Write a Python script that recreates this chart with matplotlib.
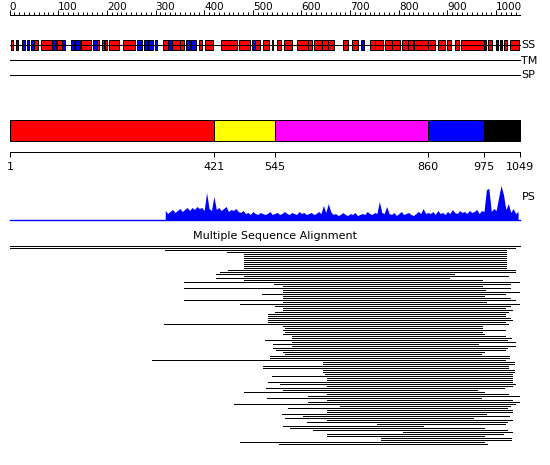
import numpy as np
import matplotlib
matplotlib.use('Agg')
from matplotlib import pyplot as plt

# protein length and top ruler
seq_len = 1049
ruler_major = list(range(0, 1001, 100))
ruler_minor = list(range(0, 1041, 10))

# secondary structure (residue ranges)
helix = [(3, 8), (50, 59), (65, 87), (97, 107), (146, 167), (179, 183), (190, 200),
         (204, 224), (234, 258), (316, 326), (334, 350), (350, 358), (389, 395),
         (402, 418), (434, 467), (471, 494), (505, 515), (520, 534), (539, 542),
         (550, 558), (564, 580), (591, 614), (614, 621), (626, 642), (642, 654),
         (654, 667), (685, 696), (703, 717), (741, 752), (752, 768), (772, 787),
         (787, 803), (807, 818), (818, 830), (832, 860), (860, 874), (881, 894),
         (900, 907), (916, 923), (928, 974), (983, 991), (1017, 1023), (1029, 1046)]
strand = [(13, 18), (26, 32), (36, 41), (45, 50), (87, 96), (108, 114), (126, 133),
          (135, 145), (172, 179), (194, 196), (261, 272), (276, 282), (285, 294),
          (299, 304), (326, 334), (362, 371), (372, 383), (498, 504), (723, 729),
          (975, 979), (999, 1003), (1008, 1013)]

# domain boundaries
dom_bounds = [1, 421, 545, 860, 975, 1049]
dom_colors = ['#ff0000', '#ffff00', '#ff00ff', '#0000ff', '#000000']

# PS profile, one value every 5 residues from 320
ps_start = 320
ps_step = 5
ps_height = [9, 6, 8, 10, 7, 9, 11, 8, 10, 12,
             9, 12, 10, 13, 11, 12, 9,
             27, 11, 9, 23,
             10, 12, 9, 11, 13, 8, 10, 9, 11, 8, 7, 9,
             6, 7, 5, 8, 6, 5, 7, 6, 5, 6, 8, 5, 6, 7, 5, 6, 8, 6, 5, 7, 6, 5, 8, 6, 7, 5, 6,
             7, 5, 6, 8, 6,
             14, 7, 16, 8,
             5, 6, 4, 5, 7, 5, 4, 6, 5, 7, 4, 5, 6, 5, 8, 6, 5, 7, 6,
             18, 7, 6, 13, 6,
             5, 7, 4, 6, 8, 5, 6, 7, 5, 4, 6, 8, 6,
             11, 6,
             7, 6, 8, 5, 9, 6, 7, 5, 8, 6, 10, 7, 6, 9, 7, 8, 6, 9, 7, 8, 10, 6, 9, 8,
             30, 31, 8, 11, 9, 22, 34, 25, 10, 16, 7, 11, 6, 8]

# multiple sequence alignment hits (start, end residue)
msa_start = [1, 1, 320, 447, 482, 482, 482, 482, 482, 482, 482, 482, 449, 433, 424, 482,
             424, 482, 359, 544, 562, 359, 562, 562, 519, 562, 562, 359, 562, 474, 546,
             562, 562, 546, 531, 531, 531, 531, 531, 317, 562, 566, 562, 566, 562, 581,
             581, 525, 581,
             541, 581, 541, 548, 562, 566, 535, 535, 293, 644, 644, 521, 521, 644, 644,
             648, 539, 652, 652, 531, 556, 652, 527, 562, 482, 652, 613, 529, 652, 613,
             461, 679, 572, 652, 652, 560, 603, 566, 652, 611, 755, 562, 576, 624, 809,
             652, 652, 763, 763, 474, 554]
msa_end = [1049, 1039, 1020, 1020, 1020, 1020, 1020, 1020, 1020, 1020, 1020, 1020, 1039,
           1039, 913, 1024, 903, 971, 1047, 1028, 971, 1028, 977, 1047, 1018, 975, 1028,
           1039, 979, 1047, 1028, 1018, 1032, 1024, 1018, 1018, 1028, 1032, 1018, 1024,
           971, 971, 1018, 971, 975, 1018, 1030, 1022, 1039,
           963, 1039, 1022, 1018, 975, 969, 1026, 1026, 1018, 1037, 1037, 1024, 1024,
           1037, 1037, 1032, 1032, 1032, 1032, 1032, 1039, 1032, 1016, 961, 975, 1024,
           1047, 969, 1032, 1047, 1039, 1028, 1022, 1032, 1032, 979, 1026, 952, 1032,
           1022, 1018, 850, 975, 1022, 1032, 1014, 975, 1030, 1030, 975, 981]

PX = 510 / 1048.0   # pixels per residue
LW = 0.72           # one pixel at 100 dpi


def main():
    fig, ax = setup_figure()
    draw_ruler(ax)
    draw_tracks(ax)
    draw_domains(ax)
    draw_ps(ax)
    draw_msa(ax)
    fig.savefig('out.png', dpi=100)


def setup_figure():
    fig = plt.figure(figsize=(5.5, 4.65), dpi=100)
    ax = fig.add_axes([0, 0, 1, 1])
    ax.set_xlim(1 - 10 / PX, 1 + 540 / PX)
    ax.set_ylim(465, 0)
    ax.axis('off')
    return fig, ax


def draw_ruler(ax):
    y = 15.5
    ax.plot([0, seq_len], [y, y], color='black', lw=LW)
    ax.vlines(ruler_minor, y - 3, y, color='black', lw=LW)
    ax.vlines(ruler_major, y - 5, y, color='black', lw=LW)
    for v in ruler_major:
        ax.text(v, 10, str(v), ha='left', va='baseline', fontsize=7.5)


def draw_tracks(ax):
    y_ss, y_tm, y_sp = 45.5, 60.5, 75.5
    for y in (y_ss, y_tm, y_sp):
        ax.plot([1, seq_len], [y, y], color='black', lw=LW)
    ax.broken_barh([(s, e - s) for s, e in helix], (y_ss - 5, 10),
                   facecolors='red', edgecolors='black', lw=LW)
    ax.broken_barh([(s, e - s) for s, e in strand], (y_ss - 5, 10),
                   facecolors='blue', edgecolors='black', lw=LW)
    for y, lab in ((y_ss, 'SS'), (y_tm, 'TM'), (y_sp, 'SP')):
        ax.text(seq_len + 2, y, lab, ha='left', va='center', fontsize=8)


def draw_domains(ax):
    segs = [(dom_bounds[i], dom_bounds[i + 1] - dom_bounds[i]) for i in range(len(dom_colors))]
    ax.broken_barh(segs, (120, 21), facecolors=dom_colors, edgecolors='black', lw=LW)
    y = 152.5
    ax.plot([1, seq_len], [y, y], color='black', lw=LW)
    ax.vlines(dom_bounds, y, y + 5, color='black', lw=LW)
    for b in dom_bounds:
        ax.text(b, 167, str(b), ha='center', va='center', fontsize=8)


def draw_ps(ax):
    base = 219.5
    x = ps_start + ps_step * np.arange(len(ps_height))
    h = np.array(ps_height)
    ax.fill_between(x, base, base - h, color='blue', lw=0)
    ax.plot([1, seq_len], [base, base], color='blue', lw=1.0)
    ax.text(seq_len + 3, 197, 'PS', ha='left', va='center', fontsize=8)


def draw_msa(ax):
    ax.text(546, 236, 'Multiple Sequence Alignment', ha='center', va='center', fontsize=8)
    rows = 245.5 + 2 * np.arange(len(msa_start))
    ax.hlines(rows, msa_start, msa_end, color='black', lw=LW, antialiased=False)


main()
